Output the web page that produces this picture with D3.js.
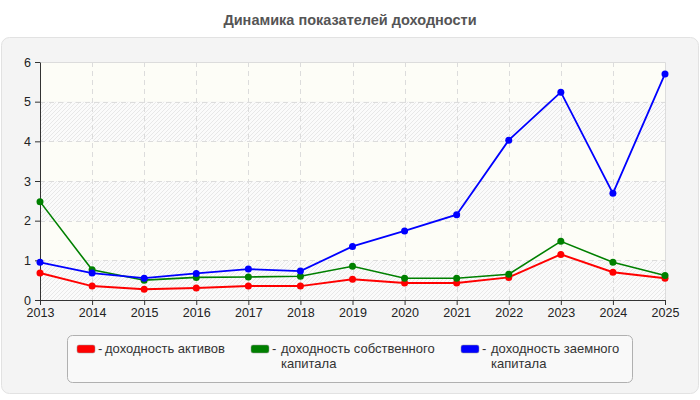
<!DOCTYPE html>
<html>
<head>
<meta charset="utf-8">
<script src="https://cdn.jsdelivr.net/npm/d3@7"></script>
<style>
  body { margin: 0; background: #fff; font-family: "Liberation Sans", Arial, sans-serif; }
</style>
</head>
<body>
<script>
// data
var years = [2013, 2014, 2015, 2016, 2017, 2018, 2019, 2020, 2021, 2022, 2023, 2024, 2025];
var assetsReturn = [0.68, 0.35, 0.27, 0.30, 0.35, 0.35, 0.52, 0.43, 0.43, 0.57, 1.15, 0.70, 0.55];
var equityReturn = [2.48, 0.76, 0.50, 0.57, 0.58, 0.60, 0.85, 0.55, 0.55, 0.65, 1.48, 0.95, 0.62];
var debtReturn = [0.95, 0.68, 0.55, 0.67, 0.78, 0.73, 1.35, 1.74, 2.15, 4.03, 5.24, 2.69, 5.70];
var yTicks = [0, 1, 2, 3, 4, 5, 6];
var seriesNames = [["доходность активов"], ["доходность собственного", "капитала"], ["доходность заемного", "капитала"]];
var seriesColors = ["#ff0000", "#008000", "#0000ff"];

var svgWidth = 700;
var svgHeight = 400;

var margin = { top: 62, right: 35, bottom: 100, left: 40 };
var width = svgWidth - margin.left - margin.right;
var height = svgHeight - margin.top - margin.bottom;

var svg = d3.select("body")
  .append("svg")
  .attr("width", svgWidth)
  .attr("height", svgHeight);

// hatch pattern
var defs = svg.append("defs");
var pat = defs.append("pattern")
  .attr("id", "hatch")
  .attr("patternUnits", "userSpaceOnUse")
  .attr("width", 4)
  .attr("height", 4);
pat.append("rect").attr("width", 4).attr("height", 4).attr("fill", "#fbfbfb");
pat.append("path")
  .attr("d", "M-1,1 l2,-2 M0,4 l4,-4 M3,5 l2,-2")
  .attr("stroke", "#e8e8e8")
  .attr("stroke-width", 1);

// title
svg.append("text")
  .attr("x", svgWidth / 2)
  .attr("y", 25)
  .attr("text-anchor", "middle")
  .attr("font-size", "14.5px")
  .attr("font-weight", "bold")
  .attr("fill", "#555")
  .text("Динамика показателей доходности");

// outer panel
svg.append("rect")
  .attr("x", 1.5).attr("y", 37.5)
  .attr("width", 697).attr("height", 356)
  .attr("rx", 8)
  .attr("fill", "#f4f4f4")
  .attr("stroke", "#e2e2e2");

var chartGroup = svg.append("g")
  .attr("transform", `translate(${margin.left}, ${margin.top})`);

var xScale = d3.scaleLinear()
  .domain([d3.min(years), d3.max(years)])
  .range([0, width]);

var yScale = d3.scaleLinear()
  .domain([0, 6])
  .range([height, 0]);

// bands
chartGroup.selectAll(".band")
  .data(yTicks.slice(0, -1))
  .enter()
  .append("rect")
  .attr("x", 0)
  .attr("width", width)
  .attr("y", d => yScale(d + 1))
  .attr("height", d => yScale(d) - yScale(d + 1))
  .attr("fill", d => d % 2 === 0 ? "url(#hatch)" : "#fdfdf7");

// grid
chartGroup.selectAll(".hgrid")
  .data(yTicks.slice(1, -1))
  .enter()
  .append("line")
  .attr("x1", 0).attr("x2", width)
  .attr("y1", d => Math.round(yScale(d)) + 0.5)
  .attr("y2", d => Math.round(yScale(d)) + 0.5)
  .attr("stroke", "#dcdcdc")
  .attr("stroke-dasharray", "5,4");

chartGroup.selectAll(".vgrid")
  .data(years.slice(1, -1))
  .enter()
  .append("line")
  .attr("x1", d => Math.round(xScale(d)) + 0.5)
  .attr("x2", d => Math.round(xScale(d)) + 0.5)
  .attr("y1", 0).attr("y2", height)
  .attr("stroke", "#dcdcdc")
  .attr("stroke-dasharray", "5,4");

// top & right border
chartGroup.append("path")
  .attr("d", `M0,0.5 H${width + 0.5} V${height}`)
  .attr("fill", "none")
  .attr("stroke", "#dcdcdc");

// axes
var bottomAxis = d3.axisBottom(xScale)
  .tickValues(years)
  .tickFormat(d3.format("d"))
  .tickSize(5)
  .tickSizeOuter(0);
var leftAxis = d3.axisLeft(yScale)
  .tickValues(yTicks)
  .tickFormat(d3.format("d"))
  .tickSize(5)
  .tickSizeOuter(0);

var xAxis = chartGroup.append("g")
  .attr("transform", `translate(0, ${height})`)
  .call(bottomAxis);
var yAxis = chartGroup.append("g")
  .call(leftAxis);

[xAxis, yAxis].forEach(function(ax) {
  ax.select(".domain").attr("stroke", "#333");
  ax.selectAll(".tick line").attr("stroke", "#333");
  ax.selectAll("text")
    .attr("font-family", "'Liberation Sans', Arial, sans-serif")
    .attr("font-size", "12.5px")
    .attr("fill", "#222");
});
xAxis.selectAll("text").attr("dy", "0.95em").attr("y", 5);
yAxis.selectAll("text").attr("x", -9);

// lines
var allSeries = [assetsReturn, equityReturn, debtReturn];
var lineWidths = [2, 1.6, 1.8];
var line = d3.line()
  .x((d, i) => xScale(years[i]))
  .y(d => yScale(d));

allSeries.forEach(function(vals, k) {
  chartGroup.append("path")
    .datum(vals)
    .attr("d", line)
    .attr("fill", "none")
    .attr("stroke", seriesColors[k])
    .attr("stroke-width", lineWidths[k]);
  chartGroup.selectAll(".pt" + k)
    .data(vals)
    .enter()
    .append("circle")
    .attr("cx", (d, i) => xScale(years[i]))
    .attr("cy", d => yScale(d))
    .attr("r", 3.5)
    .attr("fill", seriesColors[k]);
});

// legend
svg.append("rect")
  .attr("x", 67.5).attr("y", 335.5)
  .attr("width", 565).attr("height", 47)
  .attr("rx", 5)
  .attr("fill", "#f9f9f9")
  .attr("stroke", "#b0b0b0");

var legendX = [77, 251, 461];
var legend = svg.selectAll(".legend")
  .data(seriesNames)
  .enter()
  .append("g")
  .attr("transform", (d, i) => `translate(${legendX[i]}, 345)`);

legend.append("rect")
  .attr("width", 18).attr("height", 8)
  .attr("rx", 2)
  .attr("fill", (d, i) => seriesColors[i])
  .attr("stroke", "#999")
  .attr("stroke-width", 0.5);

// "-" marker and wrapped label in one text element
legend.each(function(d, i) {
  var t = d3.select(this).append("text")
    .attr("font-size", "13px")
    .attr("fill", "#333");
  t.append("tspan")
    .attr("x", 21)
    .attr("y", 8)
    .text("-");
  d.forEach(function(s, j) {
    t.append("tspan")
      .attr("x", i === 0 ? 28 : 30)
      .attr("y", 8 + j * 15)
      .text(s);
  });
});
</script>
</body>
</html>
